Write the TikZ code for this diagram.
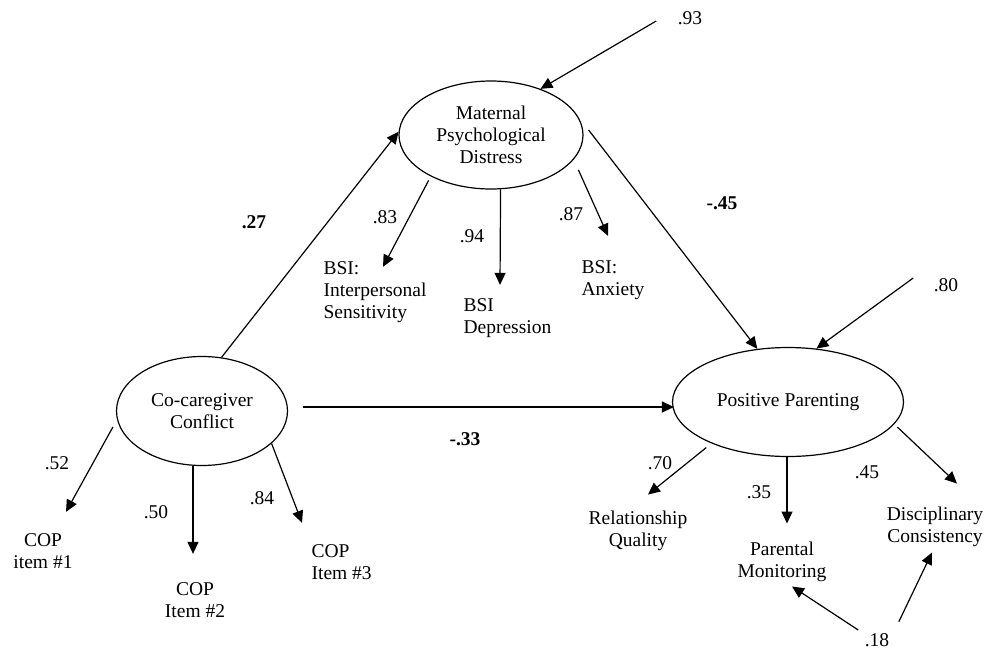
\documentclass[tikz,border=0pt]{standalone}
\usepackage{fontspec}
\setmainfont{Liberation Serif}
\usetikzlibrary{arrows.meta,shapes.geometric}
\tikzset {
  >={Triangle[length=12pt,width=11pt]},
  every node/.style={font=\fontsize{19.5}{22}\selectfont, inner sep=0pt},
  latent/.style={draw, ellipse, align=center},
  coef/.style={font=\fontsize{19.5}{22}\selectfont\bfseries},
}

\begin{document}
\begin{tikzpicture}[x=1pt,y=-1pt,line width=1.2pt]
  \useasboundingbox (0,0) rectangle (995,654);
  % latent variables
  \node[latent,minimum width=184pt,minimum height=108pt] (mpd) at (491,135) {Maternal\\Psychological\\Distress};
  \node[latent,minimum width=171pt,minimum height=109pt] (cc) at (202,411) {Co-caregiver\\Conflict};
  \node[latent,minimum width=231pt,minimum height=109pt] (pp) at (788,402) {Positive Parenting};
  % indicators
  \node[align=left,anchor=west] (bsiis) at (323,292) {BSI:\\Interpersonal\\Sensitivity};
  \node[align=left,anchor=west] (bsidep) at (463,318) {BSI\\Depression};
  \node[align=left,anchor=west] (bsianx) at (581,280) {BSI:\\Anxiety};
  \node[align=center] (cop1) at (43,551) {COP\\item \#1};
  \node[align=center] (cop2) at (195,600) {COP\\Item \#2};
  \node[align=left,anchor=west] (cop3) at (311,562) {COP\\Item \#3};
  \node[align=center] (rq) at (638,531) {Relationship\\Quality};
  \node[align=center] (pm) at (782,562) {Parental\\Monitoring};
  \node[align=center] (dc) at (935,527) {Disciplinary\\Consistency};
  % residuals
  \node (e93) at (690,18) {.93};
  \node (e80) at (946,285) {.80};
  \node (e18) at (877,640) {.18};
  % structural paths
  \node[coef] (p27) at (254,222) {.27};
  \node[coef] (p45) at (722,203) {-.45};
  \node[coef] (p33) at (465,439) {-.33};
  \draw[->] (cc.70) -- (mpd.178);
  \draw[->] ([shift={(5,-5)}]mpd.east) -- (pp.120);
  \draw[->] ([shift={(15,-4)}]cc.east) -- ([shift={(2,5)}]pp.west);
  \draw[->] ([shift={(-21,3)}]e93.west) -- (mpd.43);
  \draw[->] ([shift={(-20,-7)}]e80.west) -- (pp.62);
  % loadings
  \node (l83) at (385,217) {.83};
  \node (l94) at (472,236) {.94};
  \node (l87) at (571,214) {.87};
  \node (l52) at (57,463) {.52};
  \node (l50) at (156,512) {.50};
  \node (l84) at (262,498) {.84};
  \node (l70) at (660,463) {.70};
  \node (l35) at (759,492) {.35};
  \node (l45) at (867,472) {.45};
  \draw[->] ([shift={(-4,3)}]mpd.-144) -- ([shift={(8,6)}]bsiis.north);
  \draw[->] (mpd.-80) -- ([shift={(37,-13)}]bsidep.north west);
  \draw[->] ([shift={(11,4)}]mpd.-22) -- ([shift={(27,-24)}]bsianx.north west);
  \draw[->] ([shift={(-3,16)}]cc.west) -- ([shift={(23,-21)}]cop1.north);
  \draw[->] ([shift={(-9,0)}]cc.south) -- ([shift={(-2,-28)}]cop2.north);
  \draw[->] (cc.-25) -- ([shift={(-9,-21)}]cop3.north west);
  \draw[->] ([shift={(-8,3)}]pp.-150) -- ([shift={(10,-16)}]rq.north);
  \draw[->] ([shift={(-1,0)}]pp.south) -- ([shift={(5,-18)}]pm.north);
  \draw[->] ([shift={(5,1)}]pp.-13) -- ([shift={(22,-23)}]dc.north);
  % correlated errors
  \draw[->] ([shift={(-6,-10)}]e18.west) -- ([shift={(10,4)}]pm.south);
  \draw[->] ([shift={(9,-11)}]e18.north east) -- ([shift={(-3,5)}]dc.south);
\end{tikzpicture}
\end{document}
